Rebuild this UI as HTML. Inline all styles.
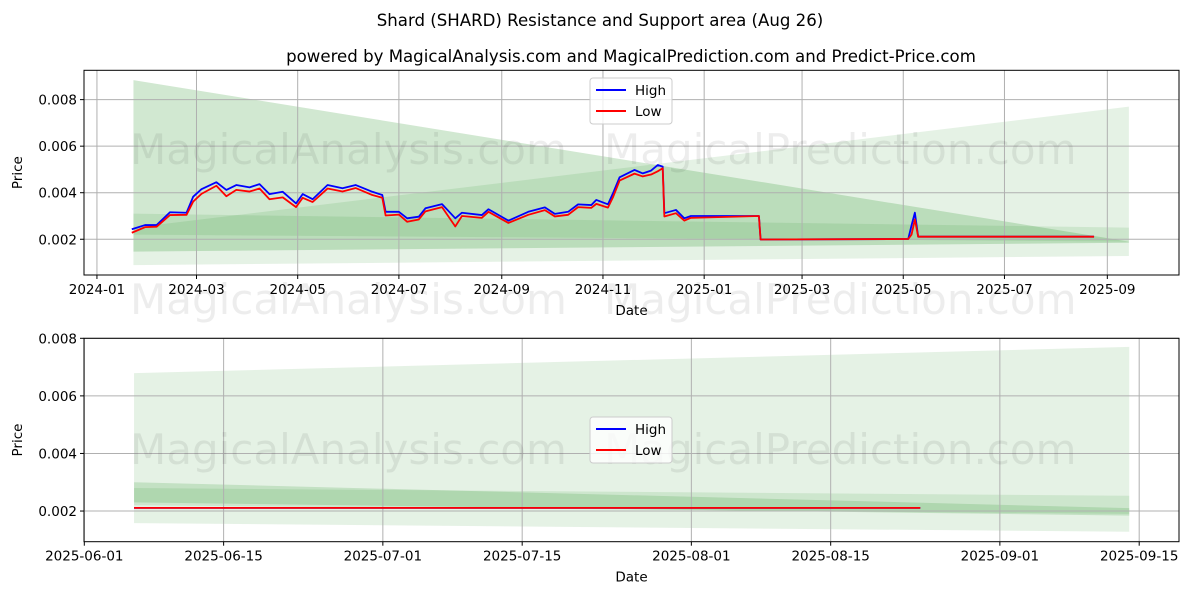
<!DOCTYPE html>
<html><head><meta charset="utf-8"><style>
body{margin:0;background:#fff}
svg{display:block;font-family:"DejaVu Sans","Liberation Sans",sans-serif}
</style></head><body>
<svg id="fig" width="1200" height="600" viewBox="0 0 1200 600">
<text x="600" y="26" text-anchor="middle" font-size="16.6">Shard (SHARD) Resistance and Support area (Aug 26)</text>
<text x="631" y="62" text-anchor="middle" font-size="16.6">powered by MagicalAnalysis.com and MagicalPrediction.com and Predict-Price.com</text>
</svg>
<script>
// ---- top chart data ----
const topDates = ["2024-01-22","2024-01-30","2024-02-06","2024-02-14","2024-02-24","2024-02-28","2024-03-04","2024-03-13","2024-03-19","2024-03-25","2024-04-02","2024-04-08","2024-04-14","2024-04-22","2024-04-30","2024-05-04","2024-05-10","2024-05-19","2024-05-28","2024-06-05","2024-06-15","2024-06-21","2024-06-23","2024-07-01","2024-07-06","2024-07-13","2024-07-17","2024-07-27","2024-08-04","2024-08-08","2024-08-20","2024-08-24","2024-09-05","2024-09-17","2024-09-27","2024-10-03","2024-10-11","2024-10-17","2024-10-25","2024-10-28","2024-11-04","2024-11-07","2024-11-11","2024-11-20","2024-11-25","2024-11-30","2024-12-04","2024-12-07","2024-12-08","2024-12-15","2024-12-20","2024-12-24","2025-02-03","2025-02-04","2025-05-04","2025-05-06","2025-05-08","2025-05-10","2025-08-24"];
const topHigh = [0.00243,0.00261,0.00261,0.00316,0.00314,0.00383,0.00415,0.00445,0.00412,0.00433,0.00423,0.00437,0.00394,0.00404,0.00354,0.00394,0.00372,0.00433,0.00419,0.00433,0.00404,0.0039,0.00318,0.00318,0.0029,0.00297,0.00333,0.00351,0.0029,0.00314,0.00304,0.00329,0.0028,0.00318,0.00337,0.00309,0.00318,0.0035,0.00347,0.00369,0.0035,0.00397,0.00466,0.00498,0.00483,0.00495,0.00519,0.00512,0.00312,0.00326,0.0029,0.003,0.003,0.00199,0.00201,0.0026,0.00314,0.00211,0.00211];
const topLow = [0.00228,0.00252,0.00254,0.00304,0.00305,0.00362,0.00395,0.0043,0.00385,0.00412,0.00405,0.00418,0.00372,0.0038,0.00338,0.00378,0.0036,0.00418,0.00405,0.0042,0.0039,0.00378,0.00302,0.00306,0.00275,0.00285,0.0032,0.00338,0.00255,0.003,0.00292,0.00318,0.0027,0.00305,0.00325,0.00298,0.00305,0.00338,0.00335,0.00352,0.00336,0.0038,0.00452,0.00482,0.0047,0.00478,0.00492,0.00505,0.00298,0.00312,0.0028,0.00292,0.003,0.00199,0.00201,0.0022,0.00285,0.00211,0.00211];
const topBandDates = ["2024-01-23","2025-09-14"];
const topBandAlo = [0.00147,0.00185], topBandAhi = [0.00884,0.0019];
const topBandBlo = [0.00089,0.00128], topBandBhi = [0.0025,0.0077];
const topBandClo = [0.0022,0.0019], topBandChi = [0.0031,0.0025];
const topYTicks = [0.002,0.004,0.006,0.008];
const topXTicks = ["2024-01","2024-03","2024-05","2024-07","2024-09","2024-11","2025-01","2025-03","2025-05","2025-07","2025-09"];
// ---- bottom chart data ----
const botDates = ["2025-06-06","2025-08-24"];
const botHigh = [0.00211,0.00211];
const botLow = [0.00211,0.00211];
const botBandDates = ["2025-06-06","2025-09-14"];
const botBandBlo = [0.00158,0.00128], botBandBhi = [0.00679,0.0077];
const botBandAlo = [0.0023,0.00184], botBandAhi = [0.0030,0.0021];
const botBandClo = [0.0022,0.0019], botBandChi = [0.0028,0.00253];
const botYTicks = [0.002,0.004,0.006,0.008];
const botXTicks = ["2025-06-01","2025-06-15","2025-07-01","2025-07-15","2025-08-01","2025-08-15","2025-09-01","2025-09-15"];

const NS="http://www.w3.org/2000/svg";
const fig=document.getElementById('fig');
function mk(tag,attrs,parent){const e=document.createElementNS(NS,tag);for(const k in attrs)e.setAttribute(k,attrs[k]);(parent||fig).appendChild(e);return e;}
function day(s){const p=s.split('-');return Date.UTC(+p[0],+p[1]-1,p[2]?+p[2]:1)/86400000;}

function chart(cfg){
  const {L,R,T,B,d0,d1,y0,y1}=cfg;
  const X=d=>L+(day(d)-d0)/(d1-d0)*(R-L);
  const Y=v=>B-(v-y0)/(y1-y0)*(B-T);
  const g=mk('g',{});
  
  
  cfg.bands.forEach(bd=>{
    const [dd,lo,hi,al,nm]=bd;
    const pts=[[X(dd[0]),Y(hi[0])],[X(dd[1]),Y(hi[1])],[X(dd[1]),Y(lo[1])],[X(dd[0]),Y(lo[0])]];
    const p=mk('polygon',{points:pts.map(q=>q.join(',')).join(' '),fill:'rgb(0,128,0)','fill-opacity':al},g);
    
    
  });
  cfg.yt.forEach(v=>{
    const l=mk('line',{x1:L,x2:R,y1:Y(v),y2:Y(v),stroke:'#b0b0b0','stroke-width':1},g);
    
    
    mk('line',{x1:L-4,x2:L,y1:Y(v),y2:Y(v),stroke:'#000'},g);
    const t=mk('text',{x:L-7,y:Y(v)+5,'text-anchor':'end','font-size':13.5},g);
    t.textContent=v.toFixed(3);
    
    
  });
  cfg.xt.forEach(s=>{
    const x=X(s);
    const l=mk('line',{x1:x,x2:x,y1:T,y2:B,stroke:'#b0b0b0','stroke-width':1},g);
    
    
    mk('line',{x1:x,x2:x,y1:B,y2:B+4,stroke:'#000'},g);
    const t=mk('text',{x:x,y:B+19,'text-anchor':'middle','font-size':13.5},g);
    t.textContent=s;
    
    
  });
  cfg.wm.forEach(w=>{
    const t=mk('text',{x:w[0],y:w[1],'font-size':42,fill:'#000','fill-opacity':0.07},g);
    t.textContent=w[2];
    
    
  });
  [[cfg.hi,'#0000ff','high-line'],[cfg.lo,'#ff0000','low-line']].forEach(s=>{
    const pts=cfg.dates.map((d,i)=>X(d)+','+Y(s[0][i])).join(' ');
    const p=mk('polyline',{points:pts,fill:'none',stroke:s[1],'stroke-width':1.8,'stroke-linejoin':'round'},g);
    
    
  });
  const fr=mk('rect',{x:L,y:T,width:R-L,height:B-T,fill:'none',stroke:'#000','stroke-width':1},g);
  
  
  const yl=mk('text',{x:0,y:0,transform:`translate(${L-62},${(T+B)/2}) rotate(-90)`,'text-anchor':'middle','font-size':13.5},g);
  yl.textContent='Price';
  
  
  const xl=mk('text',{x:(L+R)/2,y:B+40,'text-anchor':'middle','font-size':13.5},g);
  xl.textContent='Date';
  
  
  const lg=mk('g',{},g);
  
  
  const ly=cfg.legY;
  mk('rect',{x:590,y:ly,width:82,height:46,rx:3,fill:'#fff','fill-opacity':0.8,stroke:'#cccccc'},lg);
  [['High','#0000ff'],['Low','#ff0000']].forEach((e,i)=>{
    const yy=ly+12+i*21;
    mk('line',{x1:596,x2:626,y1:yy,y2:yy,stroke:e[1],'stroke-width':2},lg);
    const t=mk('text',{x:635,y:yy+5,'font-size':13.5},lg);
    t.textContent=e[0];
    
    
  });
}
const t0=day("2024-01-01");
chart({name:'top-chart',L:84,R:1179,T:70.3,B:275,d0:t0-7.8,d1:t0+652.2,y0:0.000464,y1:0.00926,
  bands:[[topBandDates,topBandAlo,topBandAhi,0.18,'band-a'],[topBandDates,topBandBlo,topBandBhi,0.1,'band-b'],[topBandDates,topBandClo,topBandChi,0.1,'band-c']],
  yt:topYTicks,xt:topXTicks,dates:topDates,hi:topHigh,lo:topLow,legY:78,
  wm:[[130,164,'MagicalAnalysis.com'],[604,164,'MagicalPrediction.com'],[130,314,'MagicalAnalysis.com'],[604,314,'MagicalPrediction.com']]});
const b0=day("2025-06-01");
chart({name:'bottom-chart',L:84,R:1179,T:338.3,B:541.7,d0:b0-0.03,d1:b0+110,y0:0.000935,y1:0.008,
  bands:[[botBandDates,botBandBlo,botBandBhi,0.1,'band-b'],[botBandDates,botBandAlo,botBandAhi,0.15,'band-a'],[botBandDates,botBandClo,botBandChi,0.1,'band-c']],
  yt:botYTicks,xt:botXTicks,dates:botDates,hi:botHigh,lo:botLow,legY:417,
  wm:[[130,464,'MagicalAnalysis.com'],[604,464,'MagicalPrediction.com']]});
</script>
</body></html>
